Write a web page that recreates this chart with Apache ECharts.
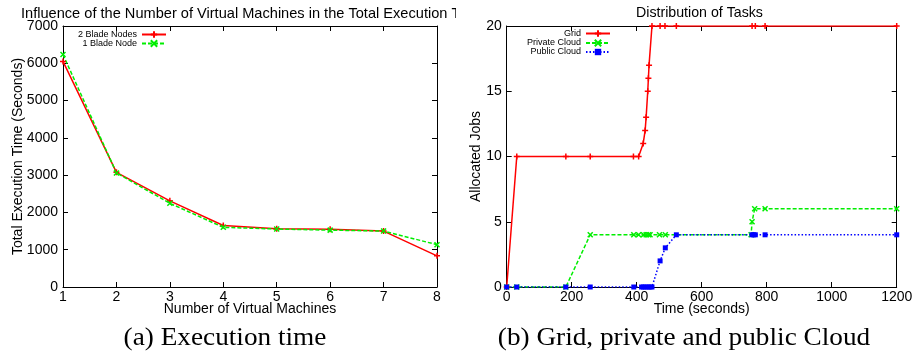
<!DOCTYPE html>
<html>
<head>
<meta charset="utf-8">
<script src="https://cdn.jsdelivr.net/npm/echarts@6/dist/echarts.min.js"></script>
<style>
  html, body { margin: 0; padding: 0; background: #fff; }
  #wrap { position: relative; width: 912px; height: 352px; overflow: hidden; }
  .viz { position: absolute; top: 0; height: 352px; overflow: hidden; }
  #execTime { left: 0; width: 456px; }
  #taskDist { left: 456px; width: 480px; }
</style>
</head>
<body>
<div id="wrap">
  <div class="viz" id="execTime"></div>
  <div class="viz" id="taskDist"></div>
</div>
<script>
// Figure (a) : temps d'exécution selon le nombre de VM
const vmCounts = [1, 2, 3, 4, 5, 6, 7, 8];
const twoBladeTime = [6050, 3075, 2310, 1650, 1560, 1550, 1500, 835];
const oneBladeTime = [6235, 3060, 2245, 1600, 1555, 1525, 1500, 1135];

// Figure (b) : répartition des tâches dans le temps
const gridTime = [0, 31, 182, 257, 390, 406, 420, 426, 429, 434, 436, 438, 447, 472, 487, 522, 755, 765, 795, 1200];
const gridJobs = [0, 10, 10, 10, 10, 10, 11, 12, 13, 15, 16, 17, 20, 20, 20, 20, 20, 20, 20, 20];
const privateTime = [0, 31, 182, 257, 391, 406, 421, 429, 436, 441, 470, 488, 752, 755, 763, 795, 1200];
const privateJobs = [0, 0, 0, 4, 4, 4, 4, 4, 4, 4, 4, 4, 4, 5, 6, 6, 6];
const publicTime = [0, 31, 182, 257, 391, 415, 421, 428, 435, 441, 447, 472, 488, 522, 755, 760, 765, 795, 1200];
const publicJobs = [0, 0, 0, 0, 0, 0, 0, 0, 0, 0, 0, 2, 3, 4, 4, 4, 4, 4, 4];

const SANS = '"Liberation Sans", Arial, sans-serif';
const SERIF = '"Liberation Serif", "Times New Roman", serif';

const PLUS = 'path://M0,5L10,5M5,0L5,10';
const CROSS = 'path://M0,0L10,10M10,0L0,10';

function pairs(xs, ys) {
    return xs.map((x, i) => [x, ys[i]]);
}

/**
 * Axe principal (avec libellés) ou miroir (graduations seules), style gnuplot
 */
function axis(type, pos, min, max, interval, name, nameGap, mirror) {
    const a = {
        type: 'value',
        position: pos,
        min: min,
        max: max,
        interval: interval,
        axisLine: { show: true, onZero: false, lineStyle: { color: '#000', width: 1 } },
        axisTick: { show: true, inside: true, length: 5, lineStyle: { color: '#000', width: 1 } },
        splitLine: { show: false },
        axisLabel: {
            show: !mirror,
            color: '#000',
            fontFamily: SANS,
            fontSize: 14,
            margin: type === 'x' ? 3 : 5,
            formatter: v => String(v)
        }
    };
    if (!mirror) {
        a.name = name;
        a.nameLocation = 'middle';
        a.nameGap = nameGap;
        a.nameMoveOverlap = false;
        a.nameTextStyle = { color: '#000', fontFamily: SANS, fontSize: 14 };
    }
    return a;
}

function legendItem(name, top, right) {
    return {
        data: [name],
        top: top,
        right: right,
        orient: 'vertical',
        align: 'right',
        padding: 0,
        itemWidth: 24,
        itemHeight: 8,
        itemGap: 0,
        selectedMode: false,
        textStyle: { color: '#000', fontFamily: SANS, fontSize: 9, lineHeight: 9 }
    };
}

function lineSeries(name, data, color, dash, symbol, size, filled) {
    return {
        name: name,
        type: 'line',
        data: data,
        symbol: symbol,
        symbolSize: size,
        showSymbol: true,
        animation: false,
        lineStyle: { color: color, width: 1.5, type: dash },
        itemStyle: {
            color: filled ? color : 'rgba(0,0,0,0)',
            borderColor: color,
            borderWidth: filled ? 0 : 1.5
        },
        emphasis: { disabled: true }
    };
}

function titleOf(text, left, size) {
    return {
        text: text,
        left: left,
        top: 6,
        padding: 0,
        textStyle: { color: '#000', fontFamily: SANS, fontSize: size, fontWeight: 'normal' }
    };
}

function caption(text, cx) {
    return [{
        type: 'text',
        x: cx,
        y: 338.5,
        scaleX: 1.09,
        style: { text: text, fill: '#000', font: '25px ' + SERIF, align: 'center', verticalAlign: 'middle' }
    }];
}

function execTimeOption() {
    return {
        animation: false,
        title: titleOf('Influence of the Number of Virtual Machines in the Total Execution Time', 21, 14.6),
        grid: { left: 63, right: 19, top: 26, bottom: 65, outerBoundsMode: 'none' },
        xAxis: [
            axis('x', 'bottom', 1, 8, 1, 'Number of Virtual Machines', 15, false),
            axis('x', 'top', 1, 8, 1, '', 0, true)
        ],
        yAxis: [
            axis('y', 'left', 0, 7000, 1000, 'Total Execution Time (Seconds)', 38, false),
            axis('y', 'right', 0, 7000, 1000, '', 0, true)
        ],
        legend: [
            legendItem('2 Blade Nodes', 30, 289),
            legendItem('1 Blade Node', 39, 289)
        ],
        series: [
            lineSeries('2 Blade Nodes', pairs(vmCounts, twoBladeTime), '#ff0000', 'solid', PLUS, 6, false),
            lineSeries('1 Blade Node', pairs(vmCounts, oneBladeTime), '#00ee00', [4, 2], CROSS, 5, false)
        ],
        graphic: caption('(a) Execution time', 225)
    };
}

// Le conteneur de droite déborde de 24 px : le libellé 1200 est coupé au bord comme dans l'original
function taskDistOption() {
    return {
        animation: false,
        title: titleOf('Distribution of Tasks', 180, 14.2),
        grid: { left: 50.7, right: 39.3, top: 26, bottom: 65, outerBoundsMode: 'none' },
        xAxis: [
            axis('x', 'bottom', 0, 1200, 200, 'Time (seconds)', 15, false),
            axis('x', 'top', 0, 1200, 200, '', 0, true)
        ],
        yAxis: [
            axis('y', 'left', 0, 20, 5, 'Allocated Jobs', 24, false),
            axis('y', 'right', 0, 20, 5, '', 0, true)
        ],
        legend: [
            legendItem('Grid', 29, 325),
            legendItem('Private Cloud', 38.5, 325),
            legendItem('Public Cloud', 47.5, 325)
        ],
        series: [
            lineSeries('Grid', pairs(gridTime, gridJobs), '#ff0000', 'solid', PLUS, 6, false),
            lineSeries('Private Cloud', pairs(privateTime, privateJobs), '#00ee00', [4, 2], CROSS, 5, false),
            lineSeries('Public Cloud', pairs(publicTime, publicJobs), '#0000ff', [1.5, 2], 'rect', 5, true)
        ],
        graphic: caption('(b) Grid, private and public Cloud', 228)
    };
}

function create(selector, option) {
    const dom = document.querySelector(selector);
    if (!dom) {
        console.error('Element introuvable : ' + selector);
        return null;
    }
    const chart = echarts.init(dom, null, { renderer: 'canvas' });
    chart.setOption(option);
    return chart;
}

create('#execTime', execTimeOption());
create('#taskDist', taskDistOption());
</script>
</body>
</html>
